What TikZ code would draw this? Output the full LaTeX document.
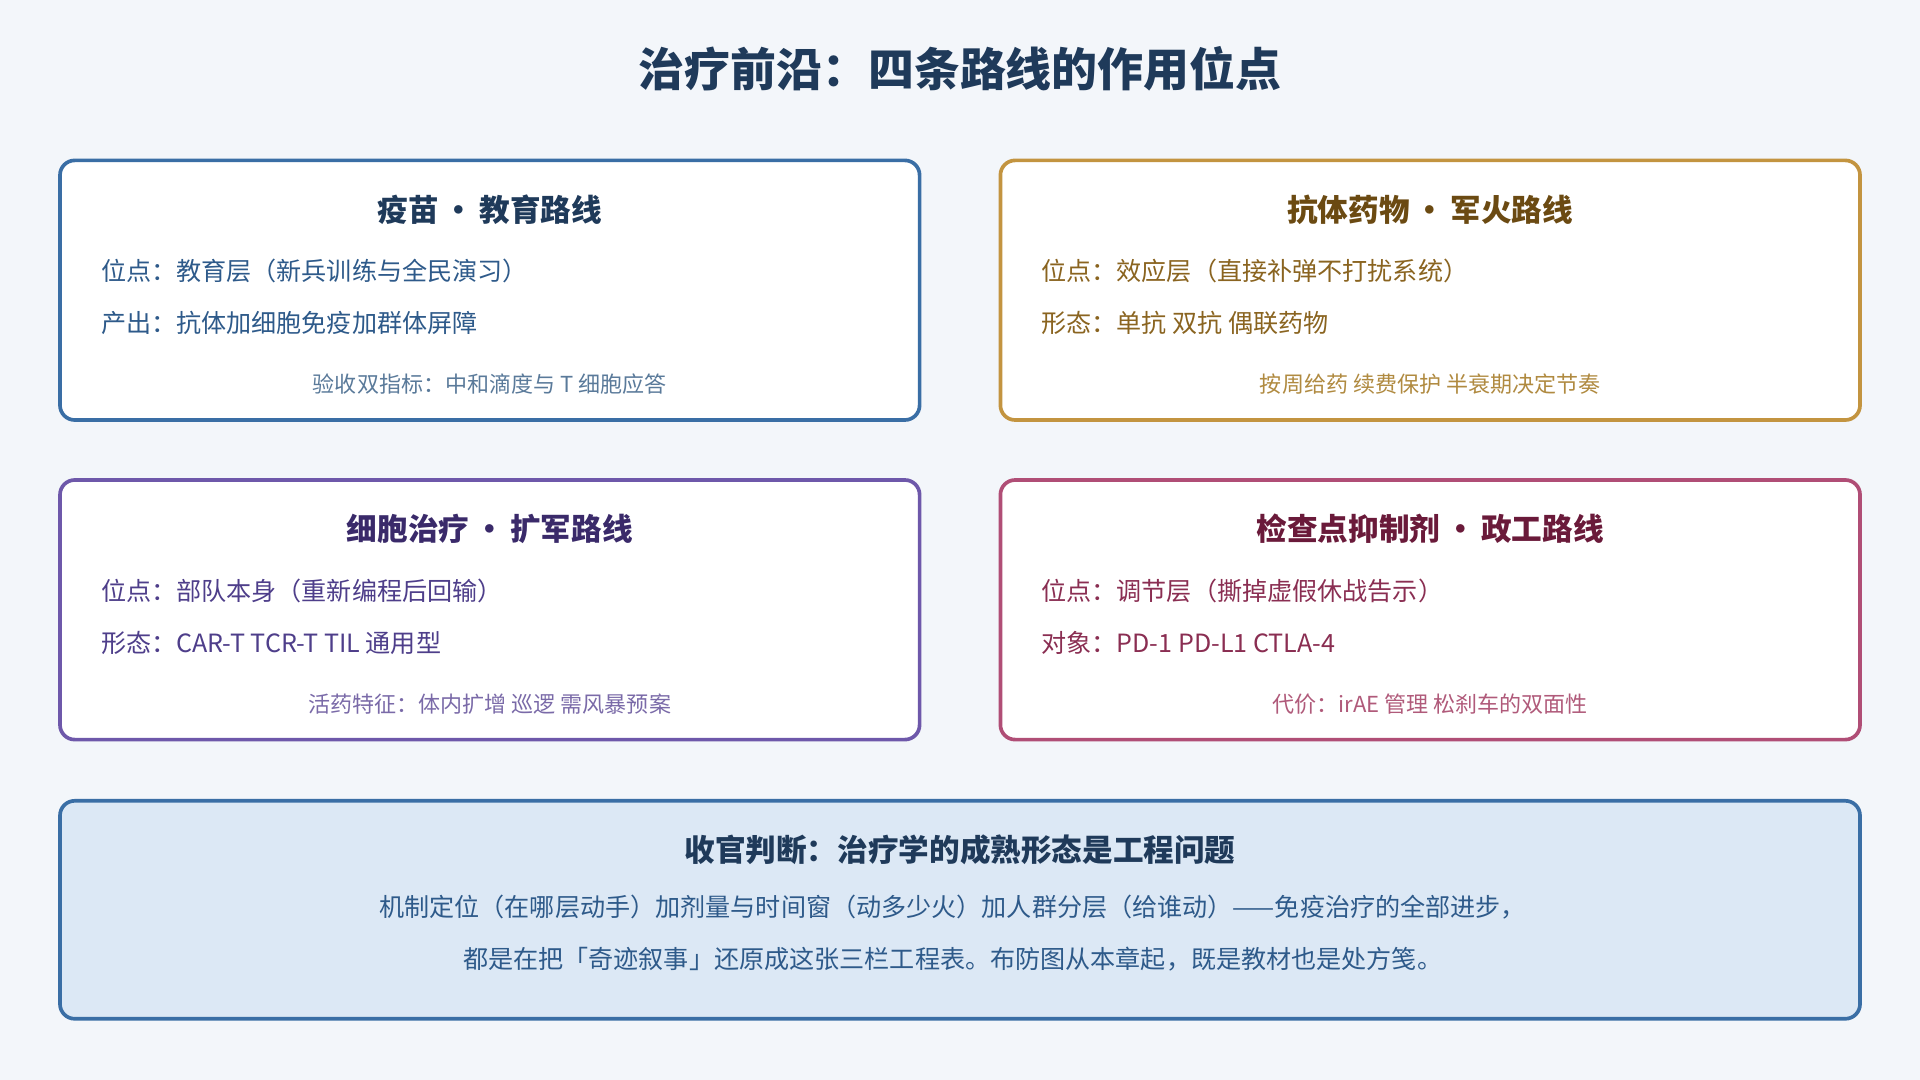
\documentclass[tikz,border=0pt]{standalone}
\usepackage{fontspec}
\setmainfont{Noto Sans CJK SC}
\begin{document}
\begin{tikzpicture}[x=1pt,y=-1pt,
 box/.style={draw, line width=3pt, rounded corners=12pt, fill=white},
 ttl/.style={font=\fontsize{25}{28}\selectfont\bfseries, anchor=center},
 ln/.style={font=\fontsize{20.5}{24}\selectfont, anchor=west},
 ft/.style={font=\fontsize{18}{20}\selectfont, anchor=center}]
\definecolor{bg}{HTML}{F3F6FA}
\definecolor{bb}{HTML}{3A6EA5}\definecolor{bt}{HTML}{1F3A5A}\definecolor{bx}{HTML}{2E5A8A}\definecolor{bf}{HTML}{5A7A9A}
\definecolor{gb}{HTML}{C39440}\definecolor{gt}{HTML}{6B4A12}\definecolor{gx}{HTML}{8A6420}\definecolor{gf}{HTML}{B08A40}
\definecolor{pb}{HTML}{6E58AA}\definecolor{pt}{HTML}{3A2A6A}\definecolor{px}{HTML}{4E3E8A}\definecolor{pf}{HTML}{7A6AA8}
\definecolor{rb}{HTML}{B04E76}\definecolor{rt}{HTML}{6A1A3A}\definecolor{rx}{HTML}{8A2E52}\definecolor{rf}{HTML}{B05A7A}
\definecolor{lf}{HTML}{DCE8F5}
\fill[bg] (0,0) rectangle (1568,882);
\node[font=\fontsize{37.5}{40}\selectfont\bfseries, text=bt] (title) at (784,56) {治疗前沿：四条路线的作用位点};
% box 1
\draw[box, draw=bb] (49,131) rectangle (751,343);
\node[ttl,text=bt] (t1) at (400,171) {疫苗{\,•\,}教育路线};
\node[ln,text=bx] (a1) at (79,221) {位点：教育层（新兵训练与全民演习）};
\node[ln,text=bx] (b1) at (79,264) {产出：抗体加细胞免疫加群体屏障};
\node[ft,text=bf] (c1) at (400,314) {验收双指标：中和滴度与 T 细胞应答};
% box 2
\draw[box, draw=gb] (817,131) rectangle (1519,343);
\node[ttl,text=gt] (t2) at (1168,171) {抗体药物{\,•\,}军火路线};
\node[ln,text=gx] (a2) at (847,221) {位点：效应层（直接补弹不打扰系统）};
\node[ln,text=gx] (b2) at (847,264) {形态：单抗 双抗 偶联药物};
\node[ft,text=gf] (c2) at (1168,314) {按周给药 续费保护 半衰期决定节奏};
% box 3
\draw[box, draw=pb] (49,392) rectangle (751,604);
\node[ttl,text=pt] (t3) at (400,432) {细胞治疗{\,•\,}扩军路线};
\node[ln,text=px] (a3) at (79,483) {位点：部队本身（重新编程后回输）};
\node[ln,text=px] (b3) at (79,525) {形态：CAR-T TCR-T TIL 通用型};
\node[ft,text=pf] (c3) at (400,575) {活药特征：体内扩增 巡逻 需风暴预案};
% box 4
\draw[box, draw=rb] (817,392) rectangle (1519,604);
\node[ttl,text=rt] (t4) at (1168,432) {检查点抑制剂{\,•\,}政工路线};
\node[ln,text=rx] (a4) at (847,483) {位点：调节层（撕掉虚假休战告示）};
\node[ln,text=rx] (b4) at (847,525) {对象：PD-1 PD-L1 CTLA-4};
\node[ft,text=rf] (c4) at (1168,575) {代价：irAE 管理 松刹车的双面性};
% bottom
\draw[box, draw=bb, fill=lf] (49,654) rectangle (1519,832);
\node[ttl,text=bt] (t5) at (784,694) {收官判断：治疗学的成熟形态是工程问题};
\node[font=\fontsize{20.5}{24}\selectfont, text=bx] (d1) at (778,741) {机制定位（在哪层动手）加剂量与时间窗（动多少火）加人群分层（给谁动）——免疫治疗的全部进步，};
\node[font=\fontsize{20.5}{24}\selectfont, text=bx] (d2) at (778,783) {都是在把「奇迹叙事」还原成这张三栏工程表。布防图从本章起，既是教材也是处方笺。};
\end{tikzpicture}
\end{document}
